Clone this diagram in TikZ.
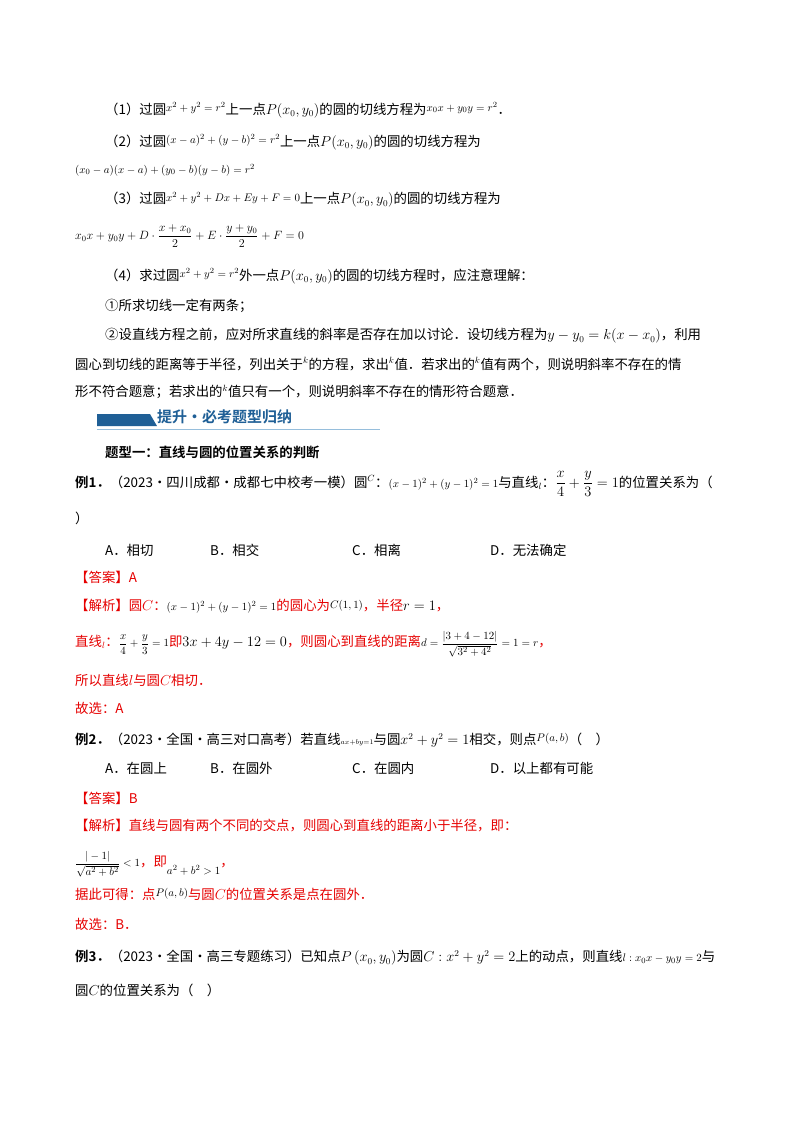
\documentclass[tikz,border=0pt]{standalone}
\usepackage{fontspec}
\usepackage{amsmath}
\newfontfamily\cjk{Noto Sans CJK SC}
\newfontfamily\cjkb{Noto Sans CJK SC}[BoldFont={Noto Sans CJK SC Bold}]
\definecolor{ansred}{RGB}{230,0,0}
\definecolor{hdrblue}{RGB}{31,95,150}
\definecolor{hdrline}{RGB}{150,190,220}
\newcommand{\sm}[1]{{\fontsize{11}{13}\selectfont$#1$}}
\begin{document}
\begin{tikzpicture}[x=1pt,y=-1pt,
  t/.style={anchor=west,inner sep=0pt,font=\fontsize{13.4}{15}\selectfont\cjk},
  r/.style={t,text=ansred}]
\useasboundingbox[fill=white] (0,0) rectangle (800,1132);
\node[t] (l1) at (105,110) {（1）过圆\raisebox{3pt}{\sm{x^2+y^2=r^2}}上一点$P(x_0,y_0)$的圆的切线方程为\raisebox{3pt}{\sm{x_0x+y_0y=r^2}}．};
\node[t] (l2) at (105,142) {（2）过圆\raisebox{3pt}{\sm{(x-a)^2+(y-b)^2=r^2}}上一点$P(x_0,y_0)$的圆的切线方程为};
\node[t] (l3) at (75,170) {\sm{(x_0-a)(x-a)+(y_0-b)(y-b)=r^2}};
\node[t] (l4) at (105,200) {（3）过圆\raisebox{2pt}{\sm{x^2+y^2+Dx+Ey+F=0}}上一点$P(x_0,y_0)$的圆的切线方程为};
\node[t] (l5) at (75,236) {\fontsize{11.5}{13}\selectfont$x_0x+y_0y+D\cdot\dfrac{x+x_0}{2}+E\cdot\dfrac{y+y_0}{2}+F=0$};
\node[t] (l6) at (105,276) {（4）求过圆\raisebox{3pt}{\sm{x^2+y^2=r^2}}外一点$P(x_0,y_0)$的圆的切线方程时，应注意理解：};
\node[t] (l7) at (105,306) {①所求切线一定有两条；};
\node[t] (l8) at (105,336) {②设直线方程之前，应对所求直线的斜率是否存在加以讨论．设切线方程为$y-y_0=k(x-x_0)$，利用};
\node[t] (l9) at (75,364) {圆心到切线的距离等于半径，列出关于$^k$的方程，求出$^k$值．若求出的$^k$值有两个，则说明斜率不存在的情};
\node[t] (l10) at (75,392) {形不符合题意；若求出的$^k$值只有一个，则说明斜率不存在的情形符合题意．};
% header
\fill[hdrblue] (97,414) -- (150,414) -- (157,426) -- (97,426) -- cycle;
\draw[hdrline,line width=0.8pt] (97,429) -- (380,429);
\node[t,text=hdrblue,font=\fontsize{15}{17}\selectfont\cjkb\bfseries] (hdr) at (157,417) {提升·必考题型归纳};
\node[t,font=\fontsize{13.4}{15}\selectfont\cjkb\bfseries] (ty1) at (105,452) {题型一：直线与圆的位置关系的判断};
\node[t] (e1) at (75,484) {{\cjkb\bfseries 例1．}（2023·四川成都·成都七中校考一模）圆$^C$：\sm{(x-1)^2+(y-1)^2=1}与直线$_l$：$\dfrac{x}{4}+\dfrac{y}{3}=1$的位置关系为（};
\node[t] (e1b) at (75,518) {）};
\node[t] (a1) at (105,550) {A．相切};
\node[t] (b1) at (210,550) {B．相交};
\node[t] (c1) at (352,550) {C．相离};
\node[t] (d1) at (490,550) {D．无法确定};
\node[r] (ans1) at (75,577) {【答案】A};
\node[r] (sol1) at (75,606) {【解析】圆$C$：\textcolor{black}{\sm{(x-1)^2+(y-1)^2=1}}的圆心为\textcolor{black}{\raisebox{2pt}{\sm{C(1,1)}}}，半径\textcolor{black}{$r=1$}，};
\node[r] (sol1b) at (75,644) {直线$_l$：\textcolor{black}{\sm{\dfrac{x}{4}+\dfrac{y}{3}=1}}即\textcolor{black}{$3x+4y-12=0$}，则圆心到直线的距离\textcolor{black}{\sm{d=\dfrac{|3+4-12|}{\sqrt{3^2+4^2}}=1=r}}，};
\node[r] (sol1c) at (75,680) {所以直线$l$与圆$C$相切．};
\node[r] (gx1) at (75,708) {故选：A};
\node[t] (e2) at (75,740) {{\cjkb\bfseries 例2．}（2023·全国·高三对口高考）若直线$\scriptscriptstyle ax+by=1$与圆$x^2+y^2=1$相交，则点\raisebox{3pt}{\sm{P(a,b)}}（\quad）};
\node[t] (a2) at (105,768) {A．在圆上};
\node[t] (b2) at (210,768) {B．在圆外};
\node[t] (c2) at (352,768) {C．在圆内};
\node[t] (d2) at (490,768) {D．以上都有可能};
\node[r] (ans2) at (75,798) {【答案】B};
\node[r] (sol2) at (75,826) {【解析】直线与圆有两个不同的交点，则圆心到直线的距离小于半径，即：};
\node[r] (sol2b) at (75,864) {\textcolor{black}{\sm{\dfrac{|-1|}{\sqrt{a^2+b^2}}<1}}，即\raisebox{-8pt}{\textcolor{black}{\sm{a^2+b^2>1}}}，};
\node[r] (sol2c) at (75,894) {据此可得：点\raisebox{3pt}{\textcolor{black}{\sm{P(a,b)}}}与圆$C$的位置关系是点在圆外．};
\node[r] (gx2) at (75,924) {故选：B．};
\node[t] (e3) at (75,958) {{\cjkb\bfseries 例3．}（2023·全国·高三专题练习）已知点$\large P\left(x_0,y_0\right)$为圆$C:x^2+y^2=2$上的动点，则直线\sm{l:x_0x-y_0y=2}与};
\node[t] (e3b) at (75,990) {圆$C$的位置关系为（\quad）};
\end{tikzpicture}
\end{document}
